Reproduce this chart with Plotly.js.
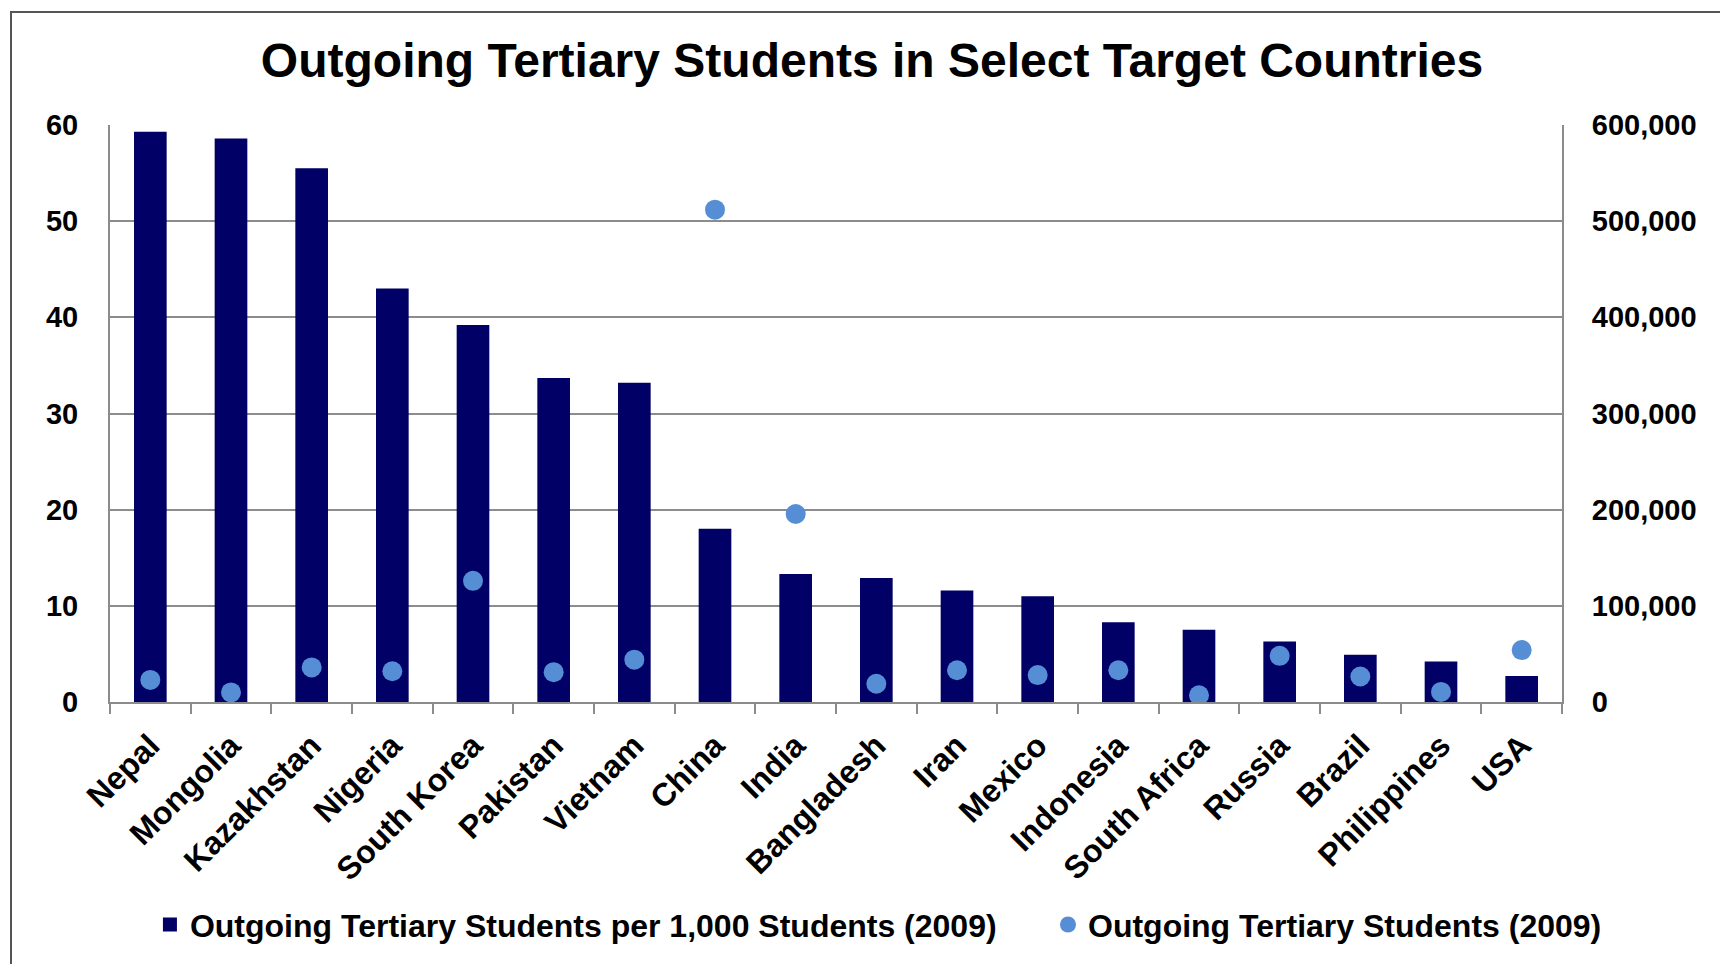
<!DOCTYPE html>
<html>
<head>
<meta charset="utf-8">
<script src="https://cdn.plot.ly/plotly-3.0.1.min.js"></script>
<style>
    html, body { margin: 0; padding: 0; background: #fff; }
    #chart { width: 1720px; height: 964px; }
    #frame {
        position: absolute; left: 10px; top: 11px;
        width: 1730px; height: 980px;
        border: 2px solid #555; pointer-events: none;
    }
</style>
</head>
<body>
<div id="chart"></div>
<div id="frame"></div>
<script>
// Chart data
const countries = ['Nepal', 'Mongolia', 'Kazakhstan', 'Nigeria', 'South Korea', 'Pakistan',
    'Vietnam', 'China', 'India', 'Bangladesh', 'Iran', 'Mexico', 'Indonesia',
    'South Africa', 'Russia', 'Brazil', 'Philippines', 'USA'];

// Outgoing tertiary students per 1,000 students (left axis)
const perThousand = [59.2, 58.5, 55.4, 42.9, 39.1, 33.6, 33.1, 17.9, 13.2, 12.8,
    11.5, 10.9, 8.2, 7.4, 6.2, 4.8, 4.1, 2.6];

// Outgoing tertiary students, absolute (right axis)
const outgoing = [23000, 10000, 36000, 32000, 126000, 31000, 44000, 512000, 195500, 19000,
    33000, 28000, 33000, 7000, 48000, 26500, 10500, 54000];

const leftTicks = [0, 10, 20, 30, 40, 50, 60];
const rightTicks = [0, 100000, 200000, 300000, 400000, 500000, 600000];

const FONT = '"Liberation Sans", Arial, Helvetica, sans-serif';
const GRID = '#8c8c8c';

const barTrace = {
    type: 'bar',
    name: '<b>Outgoing Tertiary Students per 1,000 Students (2009)</b>',
    x: countries,
    y: perThousand,
    width: 0.38,
    marker: { color: '#000066', line: { color: '#000066', width: 2 } },
    yaxis: 'y',
    legend: 'legend'
};

const dotTrace = {
    type: 'scatter',
    mode: 'markers',
    name: '<b>Outgoing Tertiary Students (2009)</b>',
    x: countries,
    y: outgoing,
    marker: { color: '#558ed5', size: 20 },
    yaxis: 'y2',
    legend: 'legend2'
};

const legendFont = { size: 32, family: FONT, color: '#000' };

const layout = {
    width: 1720,
    height: 964,
    margin: { l: 110, r: 158, t: 125, b: 259 },
    paper_bgcolor: '#ffffff',
    plot_bgcolor: '#ffffff',
    font: { family: FONT, color: '#000000' },
    title: {
        text: '<b>Outgoing Tertiary Students in Select Target Countries</b>',
        font: { size: 48, family: FONT, color: '#000' },
        xref: 'container', x: 0.507, xanchor: 'center',
        yref: 'container', y: 0.938, yanchor: 'middle'
    },
    xaxis: {
        type: 'category',
        range: [-0.5, countries.length - 0.5],
        tickangle: -45,
        tickfont: { size: 32, family: FONT, weight: 'bold' },
        ticks: 'outside', tickson: 'boundaries',
        ticklen: 10, tickwidth: 2, tickcolor: GRID,
        ticklabelstandoff: 10,
        showline: true, linecolor: GRID, linewidth: 2,
        showgrid: false, zeroline: false
    },
    yaxis: {
        range: [0, 60],
        tickvals: leftTicks,
        tickfont: { size: 29, family: FONT, weight: 'bold' },
        ticks: '',
        ticklabelstandoff: 24,
        showline: true, linecolor: GRID, linewidth: 2,
        showgrid: true, gridcolor: GRID, gridwidth: 2,
        zeroline: false
    },
    yaxis2: {
        overlaying: 'y',
        side: 'right',
        range: [0, 600000],
        tickvals: rightTicks,
        tickformat: ',d',
        tickfont: { size: 29, family: FONT, weight: 'bold' },
        ticks: '',
        ticklabelstandoff: 22,
        showline: true, linecolor: GRID, linewidth: 2,
        showgrid: false, zeroline: false
    },
    showlegend: true,
    legend: {
        orientation: 'h',
        x: 0.0275, xanchor: 'left',
        y: -0.386, yanchor: 'middle',
        font: legendFont,
        bgcolor: 'rgba(0,0,0,0)'
    },
    legend2: {
        orientation: 'h',
        x: 0.646, xanchor: 'left',
        y: -0.386, yanchor: 'middle',
        font: legendFont,
        bgcolor: 'rgba(0,0,0,0)'
    },
    bargap: 0.6
};

Plotly.newPlot('chart', [barTrace, dotTrace], layout, { staticPlot: true });
</script>
</body>
</html>
